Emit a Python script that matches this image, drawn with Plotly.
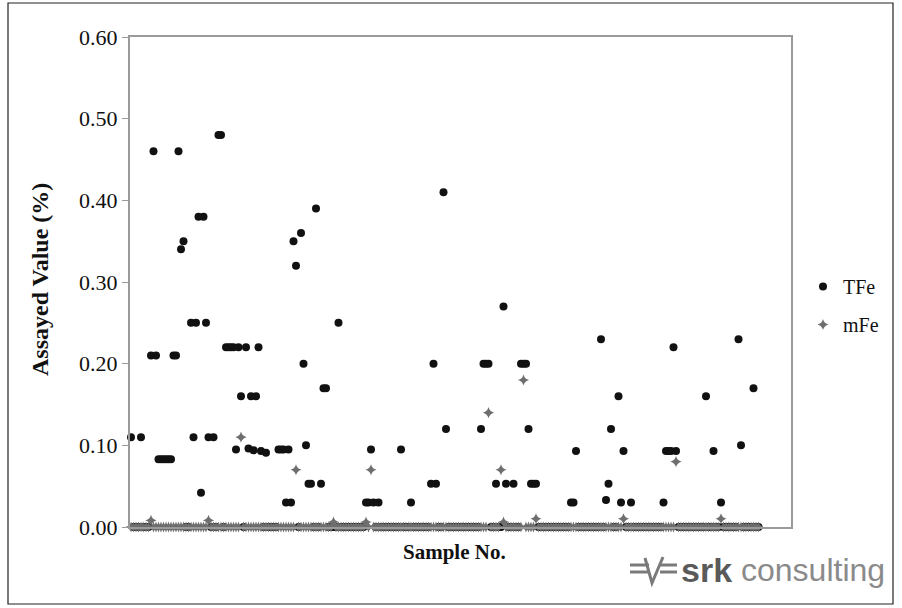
import plotly.graph_objects as go

# Sample count and the assays that are above zero (sample number -> value)
n_samples = 252

tfe_samples = [1, 5, 9, 10, 11, 12, 13, 14, 15, 16, 17, 18, 19, 20, 21, 22,
               25, 26, 27, 28, 29, 30, 31, 32, 34, 36, 37,
               39, 40, 41, 42, 43, 44, 45, 47, 48, 49, 50, 51, 52, 53, 55,
               60, 61, 62, 63, 64, 65, 66, 67, 69, 70, 71, 72, 73, 75, 77, 78, 79, 84,
               95, 96, 97, 98, 100, 109, 113, 121, 122, 123, 126, 127,
               141, 142, 143, 144, 147, 150, 151, 154, 157, 158, 159, 160, 161, 162, 163,
               177, 178, 179, 189, 191, 192, 193, 196, 197, 198, 201,
               214, 215, 216, 217, 218, 219, 231, 234, 237, 244, 245, 250]
tfe_values = [0.11, 0.11, 0.21, 0.46, 0.21, 0.083, 0.083, 0.083, 0.083, 0.083, 0.083, 0.21, 0.21, 0.46, 0.34, 0.35,
              0.25, 0.11, 0.25, 0.38, 0.042, 0.38, 0.25, 0.11, 0.11, 0.48, 0.48,
              0.22, 0.22, 0.22, 0.22, 0.095, 0.22, 0.16, 0.22, 0.096, 0.16, 0.094, 0.16, 0.22, 0.093, 0.091,
              0.095, 0.095, 0.095, 0.03, 0.095, 0.03, 0.35, 0.32, 0.36, 0.20, 0.10, 0.053, 0.053, 0.39, 0.053, 0.17, 0.17, 0.25,
              0.03, 0.03, 0.095, 0.03, 0.03, 0.095, 0.03, 0.053, 0.20, 0.053, 0.41, 0.12,
              0.12, 0.20, 0.20, 0.20, 0.053, 0.27, 0.053, 0.053, 0.20, 0.20, 0.20, 0.12, 0.053, 0.053, 0.053,
              0.03, 0.03, 0.093, 0.23, 0.033, 0.053, 0.12, 0.16, 0.03, 0.093, 0.03,
              0.03, 0.093, 0.093, 0.093, 0.22, 0.093, 0.16, 0.093, 0.03, 0.23, 0.10, 0.17]

mfe_samples = [9, 32, 45, 67, 82, 95, 97, 144, 149, 150, 158, 163, 198, 219, 237]
mfe_values = [0.008, 0.008, 0.11, 0.07, 0.006, 0.006, 0.07, 0.14, 0.07, 0.006, 0.18, 0.01, 0.01, 0.08, 0.01]

sample_no = list(range(1, n_samples + 1))
tfe = [0.0] * n_samples
for s, v in zip(tfe_samples, tfe_values):
    tfe[s - 1] = v
mfe = [0.0] * n_samples
for s, v in zip(mfe_samples, mfe_values):
    mfe[s - 1] = v

serif = "Liberation Serif, Times New Roman, serif"
sans = "Liberation Sans, Arial, sans-serif"
axis_grey = "#9a9a9a"

fig = go.Figure()
fig.add_trace(go.Scatter(
    x=sample_no, y=tfe, mode="markers", name="TFe", legendgroup="a",
    marker=dict(symbol="circle", size=8, color="#111111"),
    cliponaxis=False,
))
fig.add_trace(go.Scatter(
    x=sample_no, y=mfe, mode="markers", name="mFe", legendgroup="b",
    marker=dict(symbol="star-diamond", size=8, color="#6e6e6e"),
    cliponaxis=False,
))

# plot area: x 130..791 px, y 37..527 px
L, R, T, B = 130, 791, 37, 527
W, H = R - L, B - T


def px(x):
    return (x - L) / W


def py(y):
    return (B - y) / H


shapes = [
    # outer frame
    dict(type="rect", xref="paper", yref="paper", x0=px(8), x1=px(893), y0=py(604), y1=py(3),
         line=dict(color="#222222", width=1.2), layer="below"),
]

# logo mark: double bars with a check-shaped stroke through them
logo_grey = "#7a7a7a"
for yy in (565, 572):
    shapes.append(dict(type="line", xref="paper", yref="paper", x0=px(630), x1=px(649),
                       y0=py(yy), y1=py(yy), line=dict(color=logo_grey, width=3)))
    shapes.append(dict(type="line", xref="paper", yref="paper", x0=px(660), x1=px(677),
                       y0=py(yy), y1=py(yy), line=dict(color=logo_grey, width=3)))
shapes.append(dict(type="path", xref="paper", yref="paper",
                   path=f"M {px(645)},{py(558)} L {px(652)},{py(583)} L {px(663)},{py(557)}",
                   line=dict(color=logo_grey, width=3)))

annotations = [
    dict(text="<b>Assayed Value (%)</b>", xref="paper", yref="paper", x=px(40), y=py(280),
         xanchor="center", yanchor="middle", textangle=-90, showarrow=False,
         font=dict(family=serif, size=24, color="#111111")),
    dict(text="<b>Sample No.</b>", xref="paper", yref="paper", x=px(454), y=py(552),
         xanchor="center", yanchor="middle", showarrow=False,
         font=dict(family=serif, size=21, color="#111111")),
    dict(text="<b>srk</b>", xref="paper", yref="paper", x=px(679), y=py(570),
         xanchor="left", yanchor="middle", showarrow=False,
         font=dict(family=sans, size=34, color="#5a5a5a")),
    dict(text="consulting", xref="paper", yref="paper", x=px(739), y=py(570),
         xanchor="left", yanchor="middle", showarrow=False,
         font=dict(family=sans, size=32, color="#8a8a8a")),
]

fig.update_layout(
    width=902, height=608,
    margin=dict(l=L, r=902 - R, t=T, b=608 - B),
    paper_bgcolor="white", plot_bgcolor="white",
    showlegend=True,
    legend=dict(x=px(803), y=py(267), xanchor="left", yanchor="top",
                font=dict(family=serif, size=20, color="#111111"),
                bgcolor="rgba(0,0,0,0)", tracegroupgap=9, itemsizing="trace", itemwidth=30),
    shapes=shapes,
    annotations=annotations,
    xaxis=dict(range=[0.6, 265.0], showticklabels=False, ticks="", showgrid=False,
               zeroline=False, showline=True, linecolor=axis_grey, linewidth=2, mirror=True),
    yaxis=dict(range=[0, 0.6], dtick=0.1, tickformat=".2f", ticks="outside", ticklen=6,
               tickcolor=axis_grey, showgrid=False, zeroline=False, showline=True,
               linecolor=axis_grey, linewidth=2, mirror=True,
               tickfont=dict(family=serif, size=22, color="#111111")),
)

fig.write_html("out.html")
